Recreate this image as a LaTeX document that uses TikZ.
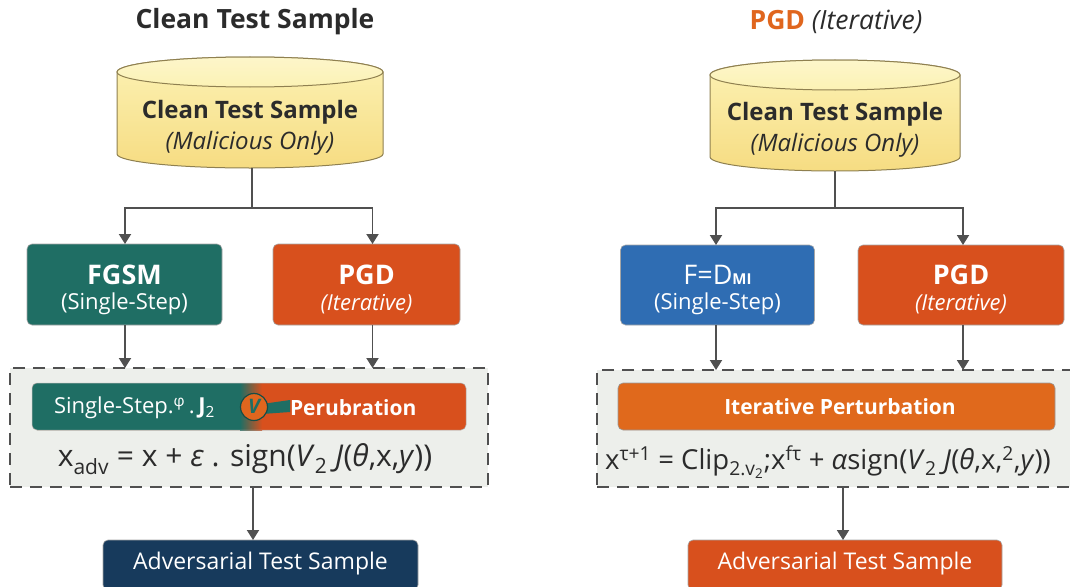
\documentclass[tikz,border=0pt]{standalone}
\usepackage{fontspec}
\setmainfont{Open Sans}
\usetikzlibrary{arrows.meta}
\definecolor{tealc}{HTML}{1F6E64}
\definecolor{redor}{HTML}{D8501D}
\definecolor{orbar}{HTML}{E0691C}
\definecolor{bluec}{HTML}{2F6DB3}
\definecolor{navyc}{HTML}{173A5C}
\definecolor{linec}{HTML}{505050}
\definecolor{dashfill}{HTML}{EDEFEB}
\definecolor{yellowa}{HTML}{FCF2B4}
\definecolor{yellowb}{HTML}{F6DC82}
\definecolor{cylborder}{HTML}{8F8050}
\definecolor{textc}{HTML}{2B2B2B}
\definecolor{titleor}{HTML}{E0661E}
\tikzset{
  every node/.style={inner sep=0pt, outer sep=0pt},
  conn/.style={draw=linec, line width=1.9pt},
  arr/.style={conn, -{Triangle[length=10pt,width=12pt]}},
  box/.style={rounded corners=5pt, draw=black!35, line width=0.6pt, text=white, align=center},
  dashbox/.style={draw=linec, line width=1.6pt, dash pattern=on 12pt off 8pt, fill=dashfill},
  cyl/.style={top color=yellowa, bottom color=yellowb, draw=cylborder, line width=1pt},
  title/.style={font=\fontsize{26.5}{30}\selectfont\bfseries, text=textc},
  cyltext/.style={align=center, text=textc, font=\fontsize{24}{31}\selectfont},
  bigt/.style={font=\fontsize{27}{30}\selectfont\bfseries, text=white},
  smallt/.style={font=\fontsize{22}{24}\selectfont, text=white},
  bart/.style={font=\fontsize{21}{24}\selectfont\bfseries, text=white},
  advt/.style={font=\fontsize{23}{26}\selectfont, text=white},
  formula/.style={font=\fontsize{30}{32}\selectfont, text=textc},
}
\begin{document}
\begin{tikzpicture}[x=1pt,y=-1pt]
\useasboundingbox (0,0) rectangle (1070,586);
\fill[white] (0,0) rectangle (1070,586);

% ---------------- LEFT PANEL ----------------
\node[title] (titleL) at (255,22) {Clean Test Sample};

% cylinder
\path[cyl] (117,72) -- (117,154) arc[start angle=180,end angle=0,x radius=133,y radius=14] -- (383,72) arc[start angle=0,end angle=-180,x radius=133,y radius=15] -- cycle;
\path[cyl, top color=yellowa!70!white, bottom color=yellowa] (250,72) ellipse[x radius=133,y radius=15];
\node[cyltext] (cylL) at (250,128) {\textbf{Clean Test Sample}\\\textit{(Malicious Only)}};
\coordinate (cylLb) at (252,168);

\node[box, fill=tealc, minimum width=195pt, minimum height=81pt] (fgsmL) at (124.5,284.5) {};
\node[bigt] at (124.5,275) {FGSM};
\node[smallt] at (124.5,304) {(Single-Step)};
\node[box, fill=redor, minimum width=187pt, minimum height=81pt] (pgdL) at (366.5,284.5) {};
\node[bigt] at (366.5,275) {PGD};
\node[smallt] at (366.5,304) {\itshape (Iterative)};

\draw[conn] (cylLb) -- (252,208) coordinate (jL);
\draw[arr] (jL) -| ([xshift=0.5pt]fgsmL.north);
\draw[arr] (jL) -| ([xshift=6pt]pgdL.north);

\node[dashbox, minimum width=478pt, minimum height=119pt] (dashL) at (249,427.5) {};
\draw[arr] ([xshift=0.5pt]fgsmL.south) -- ([xshift=0.5pt]fgsmL.south |- dashL.north);
\draw[arr] ([xshift=6pt]pgdL.south) -- ([xshift=6pt]pgdL.south |- dashL.north);

% split bar
\fill[rounded corners=5pt, redor] (32,383) rectangle (466,430);
\fill[rounded corners=5pt, tealc] (32,383) rectangle (245,430);
\shade[left color=tealc, right color=redor] (240,383) rectangle (262,430);
\draw[rounded corners=5pt, black!30, line width=0.5pt] (32,383) rectangle (466,430);
\node[anchor=west, font=\fontsize{22}{24}\selectfont, text=white] (barLa) at (54,408) {Single-Step.\textsuperscript{φ}\,.\,\textbf{J}\textsubscript{2}};
\fill[tealc] (262,404) -- (290,400) -- (290,412) -- (262,414) -- cycle;
\node[circle, fill=titleor, draw=tealc!70!black, line width=1.2pt, minimum size=27pt] (iconL) at (254,407) {};
\node[text=tealc, font=\fontsize{20}{22}\selectfont\bfseries\itshape] at (254,406) {V};
\node[bart, anchor=west] (barLb) at (290,408) {Perubration};
\node[formula] (formL) at (245,459) {x\textsubscript{adv} = x + \textit{ε} . sign(\textit{V}\textsubscript{2} \textit{J}(\textit{θ},x,\textit{y}))};

\node[box, fill=navyc, minimum width=315pt, minimum height=50pt, anchor=north] (advL) at (260.5,540) {};
\node[advt] at (260.5,564) {Adversarial Test Sample};
\draw[arr] (253,487) -- (advL.north -| 253,0);

% ---------------- RIGHT PANEL ----------------
\node[title] (titleR) at (836,22) {\textcolor{titleor}{PGD} \mdseries\itshape (Iterative)};

\path[cyl] (710,75) -- (710,157) arc[start angle=180,end angle=0,x radius=125,y radius=14] -- (960,75) arc[start angle=0,end angle=-180,x radius=125,y radius=15] -- cycle;
\path[cyl, top color=yellowa!70!white, bottom color=yellowa] (835,75) ellipse[x radius=125,y radius=15];
\node[cyltext] (cylR) at (835,130) {\textbf{Clean Test Sample}\\\textit{(Malicious Only)}};
\coordinate (cylRb) at (835,171);

\node[box, fill=bluec, minimum width=194pt, minimum height=80pt] (fdR) at (717.5,285) {};
\node[text=white, font=\fontsize{27}{30}\selectfont] at (717.5,275) {F=D{\fontsize{15}{16}\selectfont\bfseries MI}};
\node[smallt] at (717.5,304) {(Single-Step)};
\node[box, fill=redor, minimum width=206pt, minimum height=80pt] (pgdR) at (961,285) {};
\node[bigt] at (961,275) {PGD};
\node[smallt] at (961,304) {\itshape (Iterative)};

\draw[conn] (cylRb) -- (835,208) coordinate (jR);
\draw[arr] (jR) -| ([xshift=-1.5pt]fdR.north);
\draw[arr] (jR) -| ([xshift=2pt]pgdR.north);

\node[dashbox, minimum width=480pt, minimum height=117pt, anchor=north west] (dashR) at (597,370) {};
\draw[arr] ([xshift=-1.5pt]fdR.south) -- ([xshift=-1.5pt]fdR.south |- dashR.north);
\draw[arr] ([xshift=2pt]pgdR.south) -- ([xshift=2pt]pgdR.south |- dashR.north);

\node[box, fill=orbar, minimum width=437pt, minimum height=47pt, draw=black!40] (barR) at (836.5,406.5) {};
\node[bart] at (840,407) {Iterative Perturbation};
\node[formula, font=\fontsize{27.5}{30}\selectfont] (formR) at (828,462) {x\textsuperscript{τ+1} = Clip\textsubscript{2.v\textsubscript{2}};x\textsuperscript{fτ} + \textit{α}sign(\textit{V}\textsubscript{2} \textit{J}(\textit{θ},x,\textsuperscript{2},\textit{y}))};

\node[box, fill=redor, minimum width=314pt, minimum height=50pt, anchor=north] (advR) at (845,540) {};
\node[advt] at (845,564) {Adversarial Test Sample};
\draw[arr] (843,487) -- (advR.north -| 843,0);
\end{tikzpicture}
\end{document}
